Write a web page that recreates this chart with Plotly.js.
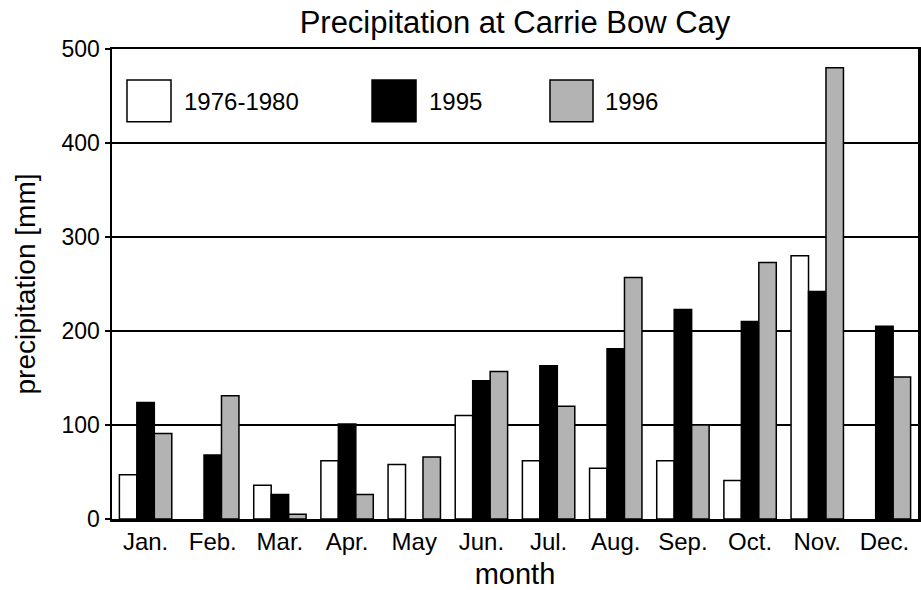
<!DOCTYPE html>
<html>
<head>
<meta charset="utf-8">
<script src="https://cdn.plot.ly/plotly-3.0.1.min.js"></script>
<style>html,body{margin:0;padding:0;background:#fff;}#chart{width:921px;height:590px;}</style>
</head>
<body>
<div id="chart"></div>
<script>
var months = ["Jan.", "Feb.", "Mar.", "Apr.", "May", "Jun.", "Jul.", "Aug.", "Sep.", "Oct.", "Nov.", "Dec."];
var seriesNames = ["1976-1980", "1995", "1996"];
var p1976_1980 = [47, null, 36, 62, 58, 110, 62, 54, 62, 41, 280, null];
var p1995 = [124, 68, 26, 101, null, 147, 163, 181, 223, 210, 242, 205];
var p1996 = [91, 131, 5, 26, 66, 157, 120, 257, 100, 273, 480, 151];
var yTicks = [0, 100, 200, 300, 400, 500];

var fills = ["#ffffff", "#000000", "#b3b3b3"];
var seriesVals = [p1976_1980, p1995, p1996];
var FONT = "Liberation Sans, Arial, sans-serif";

var traces = seriesVals.map(function (v, i) {
  return {
    type: "bar", x: months, y: v, name: seriesNames[i],
    marker: {color: fills[i], line: {color: "#000", width: 1.5}},
    showlegend: false, hoverinfo: "x+y"
  };
});

// legend drawn as layout shapes + annotations (paper coords)
var legBoxes = [[0.0186, 0.0732], [0.3226, 0.3772], [0.5434, 0.5968]];
var legText = [0.0868, 0.3908, 0.609];
var shapes = legBoxes.map(function (b, i) {
  return {type: "rect", xref: "paper", yref: "paper", x0: b[0], x1: b[1], y0: 0.845, y1: 0.934,
          fillcolor: fills[i], line: {color: "#000", width: 1.5}};
});
var annotations = legText.map(function (x, i) {
  return {xref: "paper", yref: "paper", x: x, y: 0.889, xanchor: "left", yanchor: "middle",
          text: seriesNames[i], showarrow: false, font: {family: FONT, size: 24, color: "#000"}};
});

var layout = {
  width: 921, height: 590,
  margin: {l: 112, r: 3, t: 49, b: 71},
  paper_bgcolor: "#fff", plot_bgcolor: "#fff",
  barmode: "group", bargap: 0.22, bargroupgap: 0,
  font: {family: FONT, color: "#000"},
  title: {text: "Precipitation at Carrie Bow Cay", font: {family: FONT, size: 31, color: "#000"},
          x: 0.5, xref: "paper", xanchor: "center", y: 0.962, yref: "container", yanchor: "middle"},
  xaxis: {
    type: "category", categoryorder: "array", categoryarray: months,
    showline: true, linecolor: "#000", linewidth: 2.5, mirror: true,
    ticks: "", showgrid: false, zeroline: false, automargin: false,
    tickfont: {family: FONT, size: 24, color: "#000"},
    title: {text: "month", font: {family: FONT, size: 29, color: "#000"}, standoff: 10}
  },
  yaxis: {
    range: [0, 500], tickvals: yTicks, ticktext: yTicks.map(String),
    showline: true, linecolor: "#000", linewidth: 2.5, mirror: true, automargin: false,
    ticks: "outside", ticklen: 5, tickwidth: 1.5, tickcolor: "#000",
    showgrid: true, gridcolor: "#000", gridwidth: 2, zeroline: false,
    tickfont: {family: FONT, size: 23, color: "#000"},
    title: {text: "precipitation [mm]", font: {family: FONT, size: 28, color: "#000"}, standoff: 18}
  },
  shapes: shapes,
  annotations: annotations,
  showlegend: false
};

Plotly.newPlot("chart", traces, layout, {displayModeBar: false, staticPlot: true});
</script>
</body>
</html>
